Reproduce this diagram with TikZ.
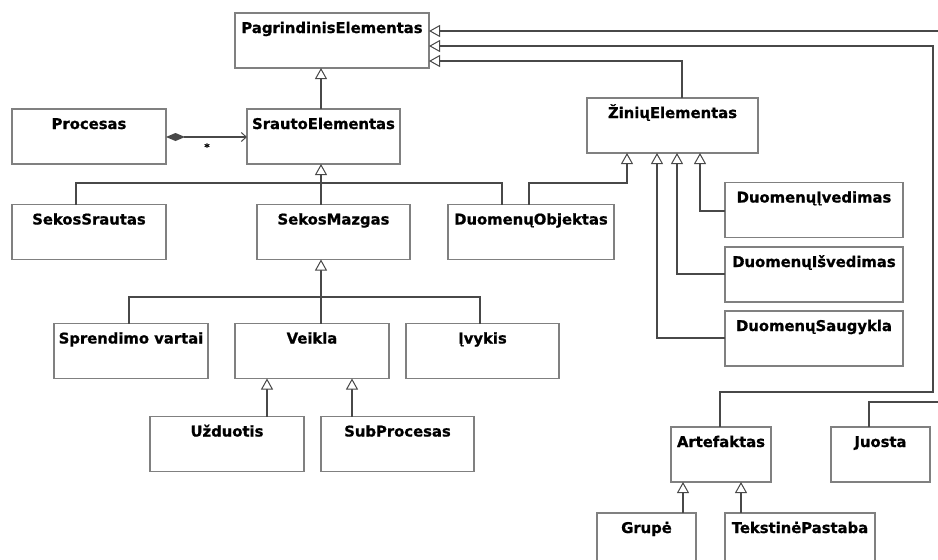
\documentclass[tikz,border=0pt]{standalone}
\usepackage{fontspec}
\setmainfont{DejaVu Sans}[BoldFeatures={FakeBold=0.9}]
\usetikzlibrary{arrows.meta}
\definecolor{boxline}{RGB}{128,128,128}
\definecolor{conline}{RGB}{72,72,72}
\begin{document}
\begin{tikzpicture}[x=1pt,y=-1pt,
  cls/.style={draw=boxline, line width=1.3pt, fill=white, inner sep=0pt, outer sep=0pt,
    text height=20pt, text depth=35pt, minimum height=55pt,
    font=\bfseries\fontsize{14.8}{16}\selectfont},
  conn/.style={draw=conline, line width=1.1pt},
  gen/.style={conn, -{Triangle[length=11pt, width=12pt, fill=white, line width=1pt]}},
  comp/.style={conn, {Diamond[length=19pt, width=8pt]}-{Straight Barb[length=5pt, width=9pt, line width=1pt]}},
  mult/.style={inner sep=0pt, font=\bfseries\fontsize{10}{11}\selectfont}
]
\useasboundingbox (0,0) rectangle (938,560);
\fill[white] (0,0) rectangle (938,560);
\clip (0,0) rectangle (938,560);

% class boxes
\node[cls, minimum width=194pt] (pe)  at (332,40.5)   {PagrindinisElementas};
\node[cls, minimum width=153pt] (se)  at (323.5,136.5) {SrautoElementas};
\node[cls, minimum width=154pt] (pr)  at (89,136.5)   {Procesas};
\node[cls, minimum width=171pt] (ze)  at (672.5,125.5) {ŽiniųElementas};
\node[cls, minimum width=154pt] (ss)  at (89,232)     {SekosSrautas};
\node[cls, minimum width=153pt] (sm)  at (333.5,232)  {SekosMazgas};
\node[cls, minimum width=166pt] (do)  at (531,232)    {DuomenųObjektas};
\node[cls, minimum width=178pt] (di)  at (814,210)    {DuomenųĮvedimas};
\node[cls, minimum width=178pt] (dis) at (814,274.5)  {DuomenųIšvedimas};
\node[cls, minimum width=178pt] (ds)  at (814,338.5)  {DuomenųSaugykla};
\node[cls, minimum width=154pt] (sv)  at (131,351)    {Sprendimo vartai};
\node[cls, minimum width=154pt] (ve)  at (312,351)    {Veikla};
\node[cls, minimum width=153pt] (iv)  at (482.5,351)  {Įvykis};
\node[cls, minimum width=154pt] (uz)  at (227,444)    {Užduotis};
\node[cls, minimum width=153pt] (sp)  at (397.5,444)  {SubProcesas};
\node[cls, minimum width=100pt] (ar)  at (721,454.5)  {Artefaktas};
\node[cls, minimum width=99pt]  (ju)  at (880.5,454.5) {Juosta};
\node[cls, minimum width=99pt]  (gr)  at (646.5,540.5) {Grupė};
\node[cls, minimum width=150pt] (tp)  at (800,540.5)  {TekstinėPastaba};

% SrautoElementas -> PagrindinisElementas
\draw[gen] (se.north -| 321,0) -- (pe.south -| 321,0);

% Procesas composition of SrautoElementas
\draw[comp] (pr.east |- 0,137) -- (se.west |- 0,137);
\node[mult] (star) at (207,147) {*};

% subclasses of SrautoElementas
\coordinate (jse) at (321,183);
\draw[conn] (ss.north -| 76,0) |- (jse) -| (do.north -| 502,0);
\draw[conn] (sm.north -| jse) -- (jse);
\draw[gen] (jse) -- (se.south -| jse);

% subclasses of SekosMazgas
\coordinate (jsm) at (321,297);
\draw[conn] (sv.north -| 129,0) |- (jsm) -| (iv.north -| 480,0);
\draw[conn] (ve.north -| jsm) -- (jsm);
\draw[gen] (jsm) -- (sm.south -| jsm);

% subclasses of Veikla
\draw[gen] (uz.north -| 267,0) -- (ve.south -| 267,0);
\draw[gen] (sp.north -| 352,0) -- (ve.south -| 352,0);

% ŽiniųElementas and its subclasses
\draw[gen] (ze.north -| 682,0) |- (pe.east |- 0,61);
\draw[gen] (do.north -| 529,0) -- (529,183) -| (ze.south -| 627,0);
\draw[gen] (di.west |- 0,211) -| (ze.south -| 700,0);
\draw[gen] (dis.west |- 0,274) -| (ze.south -| 677,0);
\draw[gen] (ds.west |- 0,338) -| (ze.south -| 657,0);

% Artefaktas and Juosta
\draw[gen] (ar.north -| 720,0) |- (933,392) |- (pe.east |- 0,46);
\draw[gen] (ju.north -| 869,0) |- (960,402) |- (pe.east |- 0,31);
\draw[gen] (gr.north -| 683,0) -- (ar.south -| 683,0);
\draw[gen] (tp.north -| 741,0) -- (ar.south -| 741,0);
\end{tikzpicture}
\end{document}
